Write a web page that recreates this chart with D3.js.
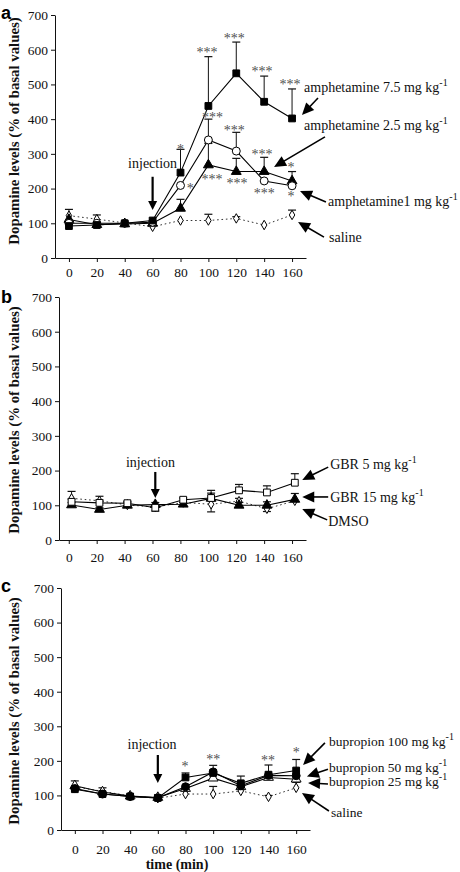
<!DOCTYPE html>
<html><head><meta charset="utf-8">
<script src="https://cdn.jsdelivr.net/npm/d3@7/dist/d3.min.js"></script>
<style>body{margin:0;background:#fff}svg{display:block}</style>
</head><body>
<svg id="chart" width="460" height="872"></svg>
<script>
// ---------- data ----------
const xTicks = [0, 20, 40, 60, 80, 100, 120, 140, 160];
const yTicks = [0, 100, 200, 300, 400, 500, 600, 700];
const timesA = [0, 20, 40, 60, 80, 100, 120, 140, 160];
const timesB = [2, 22, 42, 62, 82, 102, 122, 142, 162];
const timesC = [0, 20, 40, 60, 80, 100, 120, 140, 160];

// panel a
const amph75 = [92, 95, 100, 108, 246, 438, 532, 450, 402];
const amph75Err = [0, 0, 0, 0, 67, 142, 90, 74, 85];
const amph25 = [100, 100, 100, 103, 209, 340, 308, 222, 208];
const amph25Err = [0, 0, 0, 0, 0, 60, 54, 0, 0];
const amph1 = [111, 96, 98, 100, 143, 268, 249, 249, 222];
const amph1Err = [0, 0, 0, 0, 26, 62, 38, 41, 27];
const salineA = [122, 112, 101, 90, 108, 108, 114, 95, 124];
const salineAErr = [18, 12, 0, 0, 0, 18, 5, 0, 14];

// panel b
const gbr5 = [110, 107, 106, 93, 116, 121, 143, 137, 165];
const gbr5Err = [8, 8, 5, 8, 5, 22, 17, 19, 26];
const gbr15 = [101, 88, 100, 102, 103, 120, 100, 100, 117];
const gbr15Err = [7, 5, 8, 6, 5, 15, 8, 10, 17];
const dmso = [120, 113, 101, 95, 108, 103, 112, 90, 113];
const dmsoErr = [20, 13, 0, 0, 0, 0, 8, 0, 0];
const dmsoErrDown = [0, 0, 0, 12, 0, 22, 0, 8, 0];

// panel c
const bup100 = [118, 104, 97, 93, 152, 165, 135, 160, 172];
const bup100Err = [0, 0, 0, 0, 13, 0, 21, 28, 32];
const bup50 = [120, 104, 97, 93, 125, 168, 128, 158, 157];
const bup50Err = [0, 0, 0, 0, 0, 19, 0, 0, 0];
const bup25 = [128, 110, 98, 94, 120, 150, 125, 152, 147];
const bup25Err = [14, 12, 0, 0, 0, 0, 0, 0, 0];
const salineC = [125, 112, 98, 92, 104, 104, 113, 96, 122];
const salineCErr = [0, 0, 0, 0, 0, 22, 0, 4, 16];

// significance marks: [time, value, text]
const starsA = [[80,320,"*"],[87,207,"*"],[99,599,"***"],[103,412,"***"],[102.5,233,"***"],
  [118.5,640,"***"],[118.5,374,"***"],[120.5,222,"***"],[138.5,544,"***"],[138.5,305,"***"],
  [140,193,"***"],[158.5,507,"***"],[159.3,268,"*"],[159.3,184,"*"]];
const starsC = [[79.6,191,"*"],[100,211,"**"],[139.6,208,"**"],[160,231,"*"]];

const yTitle = "Dopamine levels (% of basal values)";

// ---------- drawing ----------
const svg = d3.select("#chart");
const SERIF = "'Liberation Serif','Times New Roman',serif";

function serif(sel, size, bold) {
  return sel.style("font-family", SERIF).style("font-size", size + "px")
    .style("font-weight", bold ? "bold" : "normal");
}

function panel(cfg) {
  const g = svg.append("g");
  const x = d3.scaleLinear().domain(cfg.xDomain).range([cfg.left, cfg.right]);
  const y = d3.scaleLinear().domain([0, 700]).range([cfg.bottom, cfg.top]);

  // axes
  const ya = g.append("g").attr("transform", `translate(${cfg.left},0)`)
    .call(d3.axisLeft(y).tickValues(yTicks).tickSize(4).tickSizeOuter(0).tickPadding(3));
  const xa = g.append("g").attr("transform", `translate(0,${cfg.bottom})`)
    .call(d3.axisBottom(x).tickValues(xTicks).tickSize(4).tickSizeOuter(0).tickPadding(cfg.xPad));
  [ya, xa].forEach(a => {
    serif(a.selectAll("text"), 13.5).attr("fill", "#111");
    a.selectAll("line,path").attr("stroke", "#111").attr("stroke-width", 1);
  });

  // y title
  serif(g.append("text").attr("transform", `translate(19,${cfg.titleY}) rotate(-90)`)
    .attr("text-anchor", "middle"), 14.8, true).attr("fill", "#111").text(yTitle);
  // panel letter
  g.append("text").attr("x", 1).attr("y", cfg.letterY)
    .style("font-family", "'Liberation Sans',Arial,sans-serif").style("font-weight", "bold")
    .style("font-size", "18px").attr("fill", "#000").text(cfg.letter);

  // series
  const lines = g.append("g"), errs = g.append("g"), marks = g.append("g");
  cfg.series.forEach(s => {
    const line = d3.line().x((d, i) => x(s.t[i])).y(d => y(d));
    lines.append("path").datum(s.v).attr("d", line).attr("fill", "none")
      .attr("stroke", s.dotted ? "#333" : "#000").attr("stroke-width", s.dotted ? 1 : 1.1)
      .attr("stroke-dasharray", s.dotted ? "1.6,2.8" : null);
    s.v.forEach((v, i) => {
      const cx = x(s.t[i]);
      [[s.up, 1], [s.down, -1]].forEach(([arr, dir]) => {
        if (!arr || !arr[i]) return;
        const ye = y(v + dir * arr[i]);
        errs.append("line").attr("x1", cx).attr("x2", cx).attr("y1", y(v)).attr("y2", ye)
          .attr("stroke", "#111").attr("stroke-width", 1);
        errs.append("line").attr("x1", cx - 4).attr("x2", cx + 4).attr("y1", ye).attr("y2", ye)
          .attr("stroke", "#111").attr("stroke-width", 1.2);
      });
    });
    marks.selectAll(null).data(s.v).join("path")
      .attr("transform", (d, i) => `translate(${x(s.t[i])},${y(d)})`)
      .attr("d", d3.symbol().type(s.sym).size(s.size))
      .attr("fill", s.filled ? "#000" : "#fff").attr("stroke", "#000").attr("stroke-width", 1);
  });

  // stars
  (cfg.stars || []).forEach(([t, v, txt]) => {
    serif(g.append("text").attr("x", x(t)).attr("y", y(v) + 7).attr("text-anchor", "middle"), 14)
      .attr("fill", "#505050").text(txt);
  });

  // injection
  const inj = cfg.injection;
  serif(g.append("text").attr("x", x(inj.textT)).attr("y", y(inj.textV)).attr("text-anchor", "middle"), 14)
    .attr("fill", "#111").text("injection");
  arrow(g, x(inj.t), y(inj.from), x(inj.t), y(inj.to), 9, 9, 2.2);

  // labels
  cfg.labels.forEach(l => {
    const t = serif(g.append("text").attr("x", x(l.t)).attr("y", y(l.v)), l.size || 14).attr("fill", "#111");
    t.append("tspan").text(l.text);
    if (l.sup) t.append("tspan").attr("dy", -6).style("font-size", "10px").text(l.sup);
    arrow(g, x(l.a[0]), y(l.a[1]), x(l.a[2]), y(l.a[3]), 12, 11, 1.6);
  });
}

function arrow(g, x1, y1, x2, y2, hl, hw, sw) {
  const dx = x2 - x1, dy = y2 - y1, L = Math.hypot(dx, dy);
  const ux = dx / L, uy = dy / L;
  const bx = x2 - ux * hl, by = y2 - uy * hl;
  g.append("line").attr("x1", x1).attr("y1", y1).attr("x2", bx + ux).attr("y2", by + uy)
    .attr("stroke", "#000").attr("stroke-width", sw);
  g.append("path").attr("d",
    `M${x2},${y2}L${bx - uy * hw / 2},${by + ux * hw / 2}L${bx + uy * hw / 2},${by - ux * hw / 2}Z`)
    .attr("fill", "#000");
}

const sq = d3.symbolSquare, ci = d3.symbolCircle, tr = d3.symbolTriangle, di = d3.symbolDiamond;

panel({
  letter: "a", letterY: 19, left: 55, right: 306, top: 15, bottom: 258, xDomain: [-10, 170],
  xPad: 5, titleY: 131,
  series: [
    {t: timesA, v: salineA, up: salineAErr, sym: di, size: 26, filled: false, dotted: true},
    {t: timesA, v: amph1, up: amph1Err, sym: tr, size: 42, filled: true},
    {t: timesA, v: amph25, up: amph25Err, sym: ci, size: 50, filled: false},
    {t: timesA, v: amph75, up: amph75Err, sym: sq, size: 46, filled: true}
  ],
  stars: starsA,
  injection: {t: 60, textT: 60, textV: 259, from: 234, to: 138},
  labels: [
    {text: "amphetamine 7.5 mg kg", sup: "-1", t: 168.6, v: 478, a: [178.6, 461, 167.1, 412]},
    {text: "amphetamine 2.5 mg kg", sup: "-1", t: 168.6, v: 369, a: [183.6, 349, 147.1, 262]},
    {text: "amphetamine1 mg kg", sup: "-1", t: 185.8, v: 150, a: [184.3, 161, 165.7, 193]},
    {text: "saline", t: 186.5, v: 46, a: [182.9, 60, 164.3, 104]}
  ]
});

panel({
  letter: "b", letterY: 303, left: 59, right: 306, top: 297, bottom: 540, xDomain: [-7, 170],
  xPad: 8, titleY: 420,
  series: [
    {t: timesB, v: dmso, up: dmsoErr, down: dmsoErrDown, sym: di, size: 26, filled: false, dotted: true},
    {t: timesB, v: gbr15, up: gbr15Err, sym: tr, size: 42, filled: true},
    {t: timesB, v: gbr5, up: gbr5Err, sym: sq, size: 46, filled: false}
  ],
  injection: {t: 62, textT: 58.5, textV: 210, from: 196, to: 121},
  labels: [
    {text: "GBR 5 mg kg", sup: "-1", t: 187.3, v: 205, a: [185.9, 210, 167.3, 173]},
    {text: "GBR 15 mg kg", sup: "-1", t: 187.3, v: 109, a: [185.9, 124, 167.3, 124]},
    {text: "DMSO", t: 185.9, v: 40, a: [185.2, 58, 167.3, 89]}
  ]
});

panel({
  letter: "c", letterY: 592, left: 61, right: 310, top: 588, bottom: 830, xDomain: [-10, 170],
  xPad: 10, titleY: 711,
  series: [
    {t: timesC, v: salineC, up: salineCErr, sym: di, size: 26, filled: false, dotted: true},
    {t: timesC, v: bup25, up: bup25Err, sym: tr, size: 42, filled: false},
    {t: timesC, v: bup50, up: bup50Err, sym: ci, size: 50, filled: true},
    {t: timesC, v: bup100, up: bup100Err, sym: sq, size: 46, filled: true}
  ],
  stars: starsC,
  injection: {t: 60, textT: 55.8, textV: 234, from: 217, to: 136},
  labels: [
    {text: "bupropion 100 mg kg", sup: "-1", size: 13.5, t: 183.7, v: 243, a: [180.8, 252, 165, 188]},
    {text: "bupropion 50 mg kg", sup: "-1", size: 13.5, t: 183.7, v: 168, a: [183, 176, 167.8, 155]},
    {text: "bupropion 25 mg kg", sup: "-1", size: 13.5, t: 183.7, v: 127, a: [183, 133, 168.6, 136]},
    {text: "saline", size: 13.5, t: 185.2, v: 38, a: [183.7, 55, 164.2, 107]}
  ]
});

serif(svg.append("text").attr("x", 177).attr("y", 869).attr("text-anchor", "middle"), 14, true)
  .attr("fill", "#111").text("time (min)");
</script>
</body></html>
